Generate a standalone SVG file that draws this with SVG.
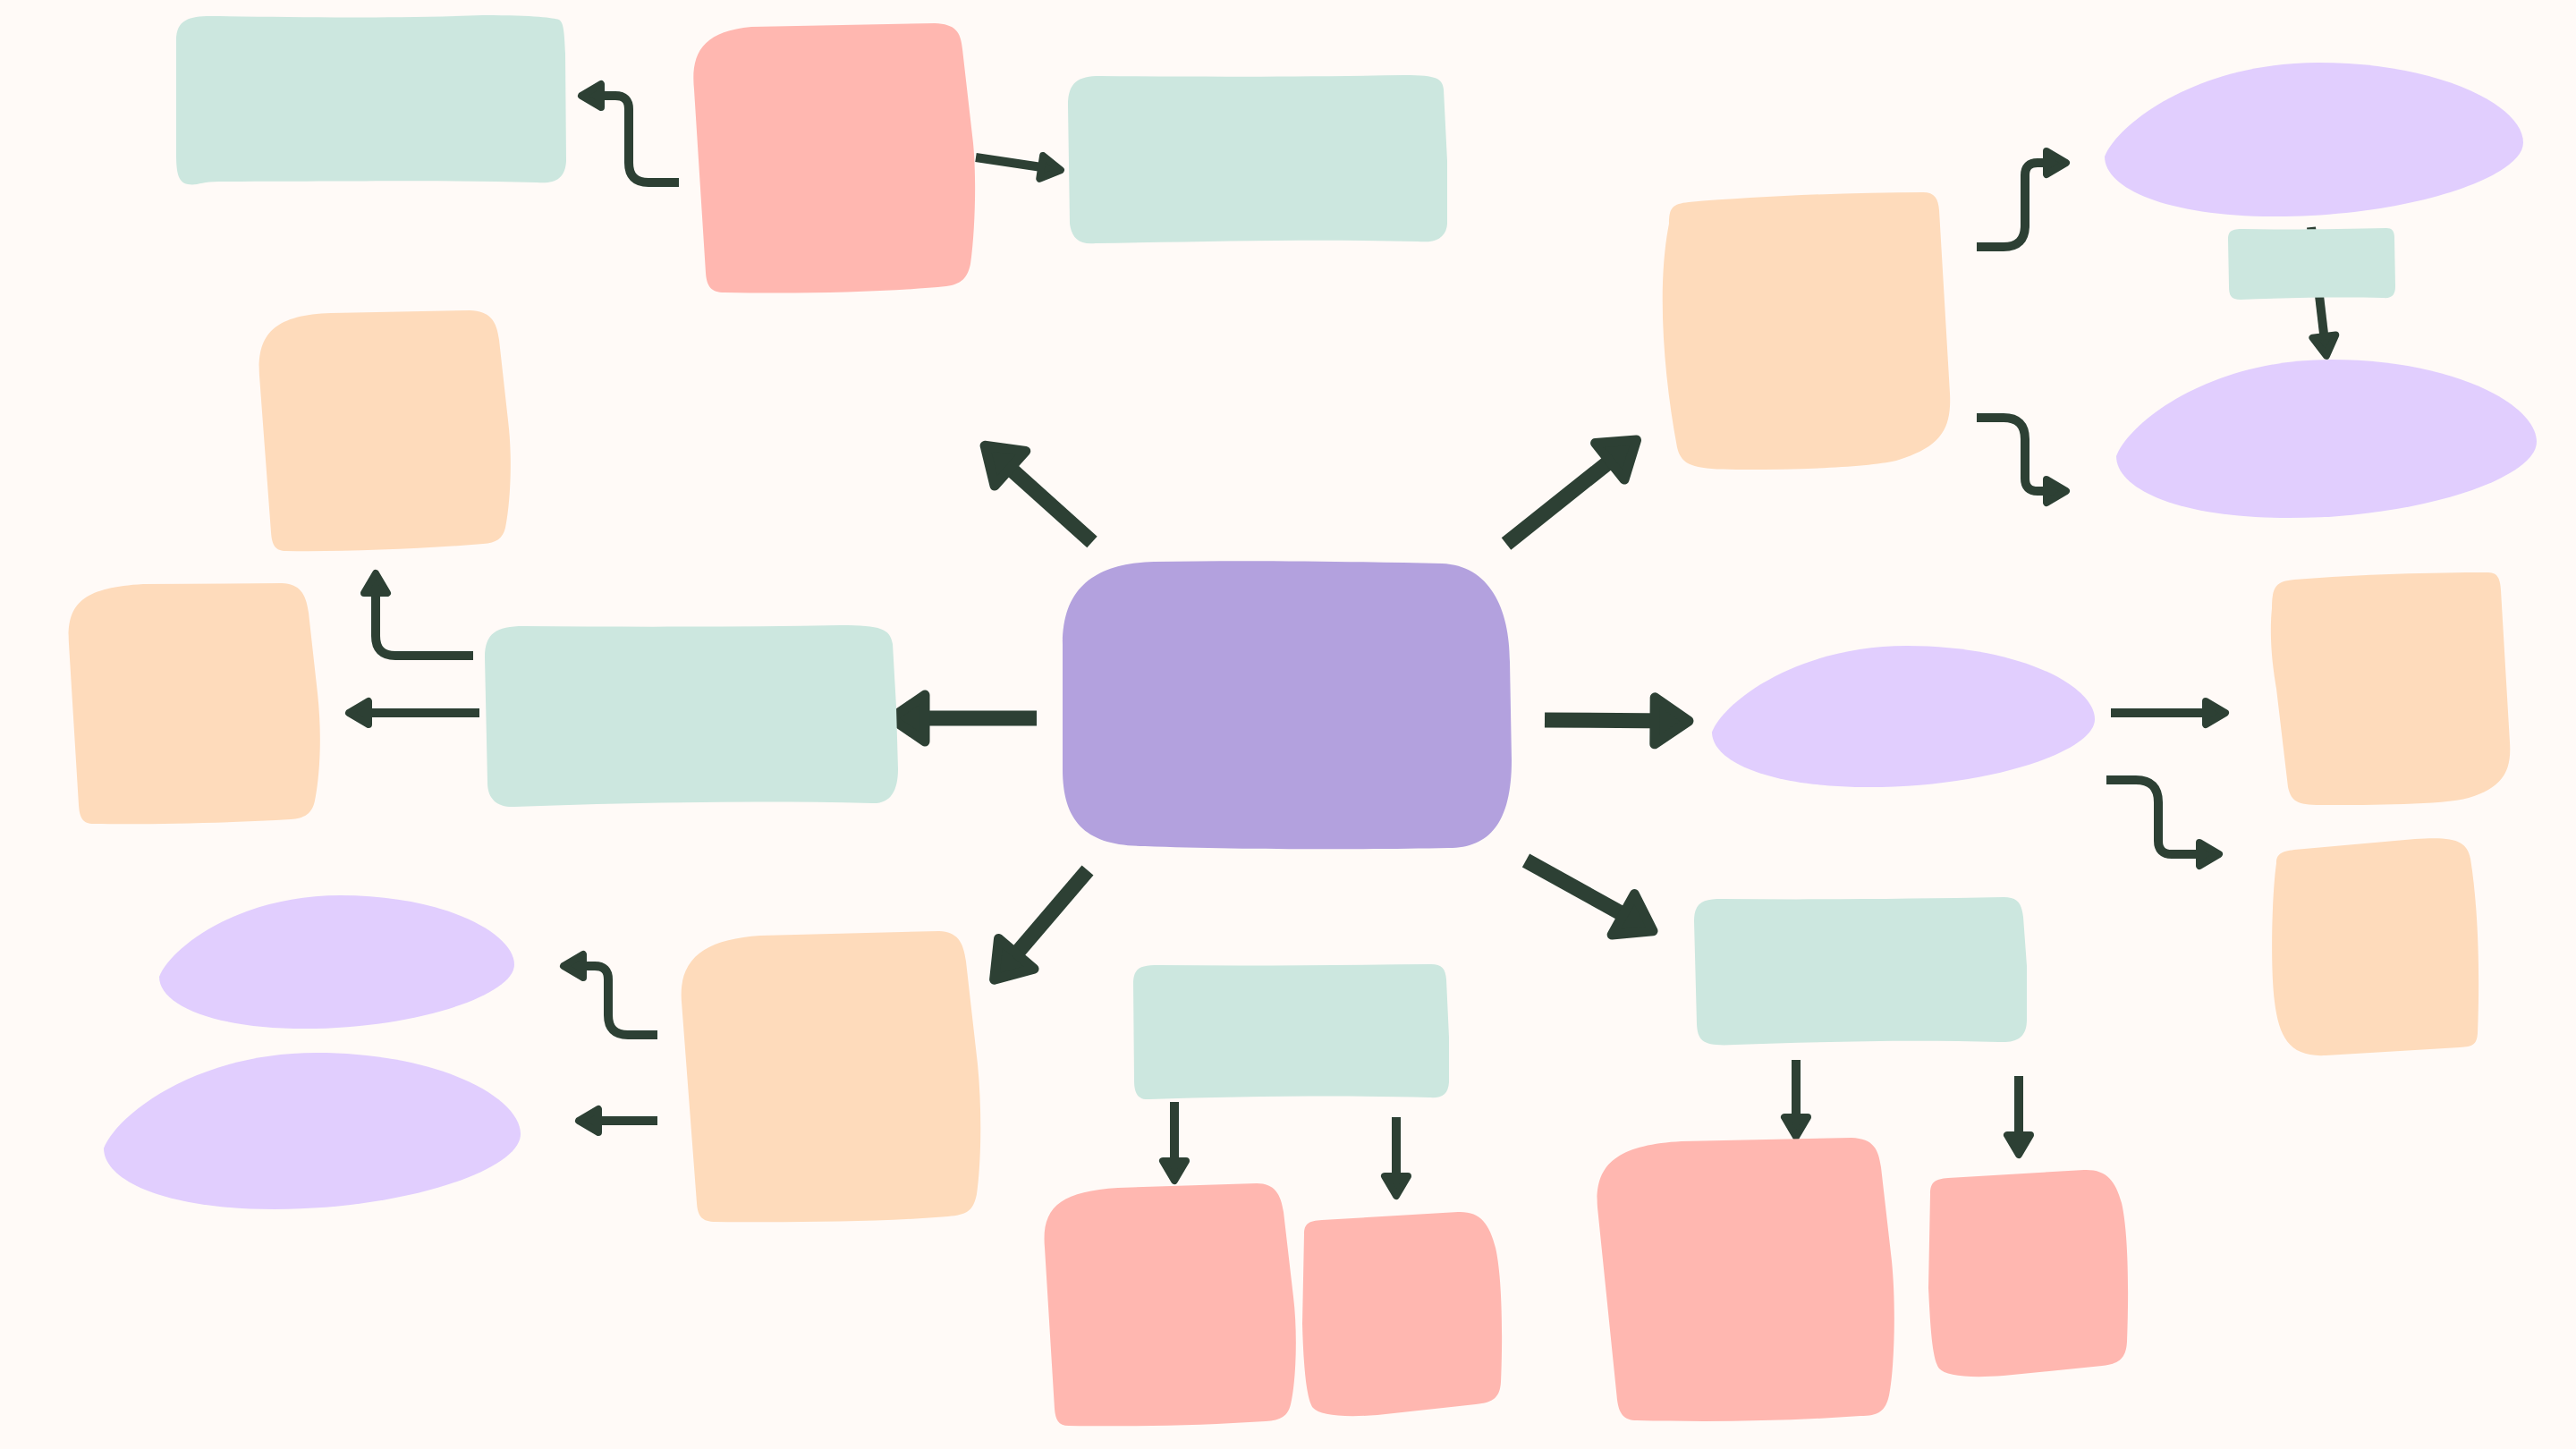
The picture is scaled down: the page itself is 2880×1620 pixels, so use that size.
<svg xmlns="http://www.w3.org/2000/svg" xmlns:xlink="http://www.w3.org/1999/xlink" width="2880" height="1620" viewBox="0 0 2880 1620">
<style>
.mint{fill:#CCE7DF}
.salmon{fill:#FFB7B0}
.peach{fill:#FEDBBB}
.lav{fill:#E1CEFE}
.core{fill:#B3A1DE}
.thin{fill:none;stroke:#2D4034;stroke-width:10;marker-end:url(#ahs)}
.thick{fill:none;stroke:#2D4034;stroke-width:17;marker-end:url(#ahl)}
</style>
<defs>
<marker id="ahs" viewBox="-6 -22 40 44" markerWidth="40" markerHeight="44" refX="14" refY="0" orient="auto" markerUnits="userSpaceOnUse">
<path d="M0,-13 L22,0 L0,13 Z" fill="#2D4034" stroke="#2D4034" stroke-width="8" stroke-linejoin="round"/>
</marker>
<marker id="ahl" viewBox="-8 -36 58 72" markerWidth="58" markerHeight="72" refX="22" refY="0" orient="auto" markerUnits="userSpaceOnUse">
<path d="M0,-26 L38,0 L0,26 Z" fill="#2D4034" stroke="#2D4034" stroke-width="11" stroke-linejoin="round"/>
</marker>
<path id="blob" d="M0,61 C3,40 22,0 51,0 C80,0 100,28 100,52 C100,75 72,100 41,100 C15,100 0,82 0,61 Z"/>
</defs>
<rect x="0" y="0" width="2880" height="1620" fill="#FFFAF7"/>

<g id="connectors">
<path class="thin" d="M759,204 L725,204 Q703,204 703,182 L703,122 Q703,107 688,107 L658,107"/>
<path class="thin" d="M1091,176 L1178,189"/>
<path class="thick" d="M1221,606 L1113,509"/>
<path class="thick" d="M1684,608 L1817,502"/>
<path class="thick" d="M1159,803 L1012,803"/>
<path class="thin" d="M529,733 L442,733 Q420,733 420,711 L420,649"/>
<path class="thin" d="M536,797 L398,797"/>
<path class="thin" d="M2210,276 L2240,276 Q2264,276 2264,252 L2264,196 Q2264,182 2278,182 L2302,182"/>
<path class="thin" d="M2210,467 L2240,467 Q2264,467 2264,491 L2264,535 Q2264,549 2278,549 L2302,549"/>
<path class="thin" d="M2584,254 L2600,390"/>
<path class="thick" d="M1727,805 L1872,806"/>
<path class="thin" d="M2360,797 L2480,797"/>
<path class="thin" d="M2355,872 L2388,872 Q2413,872 2413,897 L2413,940 Q2413,955 2428,955 L2473,955"/>
<path class="thick" d="M1706,962 L1834,1033"/>
<path class="thin" d="M2008,1185 L2008,1263"/>
<path class="thin" d="M2257,1203 L2257,1283"/>
<path class="thin" d="M1313,1232 L1313,1312"/>
<path class="thin" d="M1561,1249 L1561,1329"/>
<path class="thick" d="M1216,973 L1122,1083"/>
<path class="thin" d="M735,1157 L702,1157 Q680,1157 680,1135 L680,1095 Q680,1080 665,1080 L638,1080"/>
<path class="thin" d="M735,1253 L655,1253"/>
</g>

<g id="node-center"><path class="core" d="M1188,720 C1188,652 1230,630 1290,628 C1400,626 1520,628 1612,630 C1665,632 1688,680 1688,740 L1690,850 C1690,920 1665,948 1620,948 C1520,950 1380,950 1280,946 C1215,946 1188,920 1188,860 Z"/></g>
<g id="node-a"><path class="mint" d="M197,45 C197,22 212,18 235,18 C330,19 420,21 540,17 C600,17 618,20 625,22 C630,25 631,35 632,60 L633,180 C632,200 620,206 600,204 C500,201 400,203 245,203 C225,203 220,208 210,206 C198,204 197,190 197,170 Z"/></g>
<g id="node-b"><path class="salmon" d="M776,100 C772,60 785,35 840,30 L1045,26 C1068,27 1074,35 1076,55 L1088,160 C1092,200 1090,260 1085,295 C1082,310 1075,318 1058,320 C1000,326 900,329 810,327 C795,327 790,320 789,305 Z"/></g>
<g id="node-c"><path class="mint" d="M1194,118 C1194,92 1205,85 1230,85 C1350,86 1450,86 1570,84 C1608,84 1612,88 1614,100 L1618,180 L1618,250 C1617,266 1605,272 1585,270 C1460,267 1360,270 1225,272 C1205,274 1198,265 1196,250 Z"/></g>
<g id="node-d"><path class="peach" d="M290,420 C287,375 305,352 370,350 L525,347 C548,348 555,358 558,380 L568,470 C573,510 571,560 565,590 C562,602 555,607 540,608 C470,614 380,617 320,616 C308,616 304,610 303,595 Z"/></g>
<g id="node-e"><path class="peach" d="M77,720 C74,675 92,657 160,653 L315,652 C335,653 342,663 345,685 L355,775 C360,820 358,865 352,895 C349,910 340,915 325,916 C260,920 170,922 105,921 C92,921 89,914 88,900 Z"/></g>
<g id="node-f"><path class="mint" d="M542,735 C542,708 555,700 585,700 C700,701 820,701 940,699 C985,699 995,703 998,720 L1002,790 L1004,860 C1004,885 995,899 975,898 C850,895 700,897 575,902 C558,903 545,895 545,875 Z"/></g>
<g id="node-g"><path class="peach" d="M1866,250 C1866,232 1870,228 1888,226 C1960,220 2060,215 2150,215 C2163,215 2167,222 2168,235 L2180,440 C2182,480 2170,500 2120,515 C2090,522 2020,525 1950,525 C1895,525 1880,522 1875,500 C1860,420 1852,320 1866,250 Z"/></g>
<g id="node-h"><use href="#blob" class="lav" transform="translate(2353,70) scale(4.68,1.72)"/></g>
<g id="node-i"><path class="mint" d="M2491,268 C2491,258 2495,256 2508,256 C2560,257 2620,256 2668,255 C2674,255 2677,258 2677,266 L2678,320 C2678,330 2674,334 2664,333 C2610,332 2560,333 2505,335 C2494,335 2492,330 2492,320 Z"/></g>
<g id="node-j"><use href="#blob" class="lav" transform="translate(2366,402) scale(4.70,1.77)"/></g>
<g id="node-k"><use href="#blob" class="lav" transform="translate(1914,722) scale(4.28,1.58)"/></g>
<g id="node-l"><path class="peach" d="M2540,680 C2540,655 2545,650 2565,648 C2640,642 2720,640 2780,640 C2792,640 2795,645 2796,660 L2806,830 C2808,860 2800,880 2760,892 C2730,900 2650,900 2600,900 C2570,900 2562,898 2558,880 L2545,770 C2538,730 2538,700 2540,680 Z"/></g>
<g id="node-m"><path class="peach" d="M2545,965 C2545,955 2550,952 2565,950 L2700,938 C2745,935 2758,940 2762,960 C2770,1010 2773,1080 2770,1155 C2769,1168 2765,1170 2750,1171 L2600,1180 C2560,1182 2548,1160 2543,1120 C2538,1080 2540,1000 2545,965 Z"/></g>
<g id="node-n"><path class="mint" d="M1894,1030 C1894,1008 1905,1005 1925,1005 C2030,1006 2130,1005 2240,1003 C2256,1003 2260,1010 2262,1025 L2266,1080 L2266,1140 C2266,1160 2255,1166 2235,1165 C2130,1162 2030,1165 1940,1168 C1905,1170 1898,1165 1897,1145 Z"/></g>
<g id="node-o"><path class="salmon" d="M1786,1350 C1782,1300 1810,1280 1880,1276 L2070,1272 C2095,1273 2100,1285 2103,1305 L2115,1410 C2120,1460 2118,1530 2112,1560 C2108,1578 2100,1583 2080,1583 C2000,1589 1910,1590 1830,1588 C1815,1588 1810,1580 1808,1565 Z"/></g>
<g id="node-p"><path class="salmon" d="M2158,1335 C2158,1322 2163,1318 2178,1317 L2330,1308 C2355,1307 2365,1320 2372,1345 C2380,1380 2380,1450 2378,1500 C2377,1518 2370,1525 2350,1527 L2240,1538 C2200,1541 2175,1538 2168,1530 C2160,1520 2158,1480 2156,1440 Z"/></g>
<g id="node-q"><path class="mint" d="M1267,1100 C1267,1082 1275,1079 1295,1079 C1400,1080 1500,1079 1600,1078 C1612,1078 1616,1083 1617,1095 L1620,1160 L1620,1210 C1619,1224 1612,1228 1598,1227 C1500,1224 1380,1226 1285,1229 C1272,1230 1268,1222 1268,1208 Z"/></g>
<g id="node-r"><path class="salmon" d="M1168,1395 C1164,1350 1185,1332 1250,1328 L1405,1323 C1425,1323 1432,1335 1435,1355 L1446,1450 C1451,1490 1449,1545 1443,1570 C1440,1583 1432,1588 1415,1589 C1340,1594 1260,1595 1195,1594 C1183,1594 1180,1587 1179,1575 Z"/></g>
<g id="node-s"><path class="salmon" d="M1458,1380 C1458,1368 1463,1365 1478,1364 L1630,1355 C1655,1354 1665,1368 1672,1395 C1680,1430 1680,1500 1678,1545 C1677,1562 1670,1568 1650,1570 L1540,1582 C1500,1585 1475,1582 1468,1574 C1460,1564 1457,1520 1456,1480 Z"/></g>
<g id="node-t"><path class="peach" d="M762,1120 C758,1070 790,1050 850,1046 L1050,1041 C1070,1042 1077,1052 1080,1075 L1093,1190 C1098,1240 1097,1300 1092,1335 C1088,1355 1080,1358 1060,1360 C990,1366 880,1367 800,1366 C785,1366 780,1360 779,1345 Z"/></g>
<g id="node-u"><use href="#blob" class="lav" transform="translate(178,1001) scale(3.97,1.49)"/></g>
<g id="node-v"><use href="#blob" class="lav" transform="translate(116,1177) scale(4.66,1.75)"/></g>
</svg>
